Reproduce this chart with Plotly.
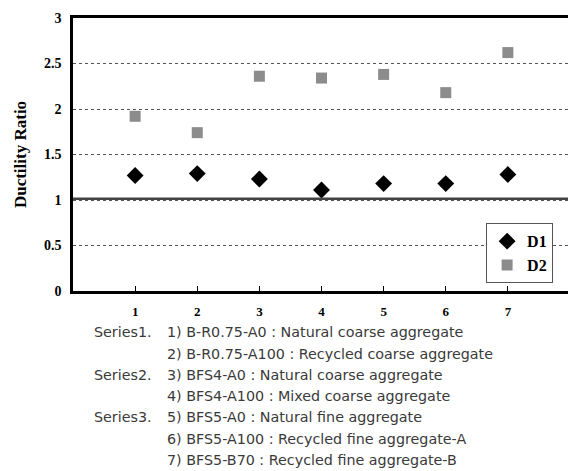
import plotly.graph_objects as go

specimens = [1, 2, 3, 4, 5, 6, 7]
d1 = [1.27, 1.29, 1.23, 1.11, 1.18, 1.18, 1.28]
d2 = [1.92, 1.74, 2.36, 2.34, 2.38, 2.18, 2.62]
y_ticks = [0, 0.5, 1, 1.5, 2, 2.5, 3]
y_labels = ["0", "0.5", "1", "1.5", "2", "2.5", "3"]
series_labels = ["Series1.", "", "Series2.", "", "Series3.", "", ""]
notes = [
    "1) B-R0.75-A0 : Natural coarse aggregate",
    "2) B-R0.75-A100 : Recycled coarse aggregate",
    "3) BFS4-A0 : Natural coarse aggregate",
    "4) BFS4-A100 : Mixed coarse aggregate",
    "5) BFS5-A0 : Natural fine aggregate",
    "6) BFS5-A100 : Recycled fine aggregate-A",
    "7) BFS5-B70 : Recycled fine aggregate-B",
]

OFF = 8  # page body margin
W, H = 576 - OFF, 471 - OFF
L, R, T, B = 73 - OFF, 3, 13 - OFF, 180
PW, PH = W - L - R, H - T - B

def px(x):
    return (x - OFF - L) / PW

def py(y):
    return (H - B - (y - OFF)) / PH

serif = "Liberation Serif"
note_font = dict(family="DejaVu Sans", size=14.3, color="#3a3a3a")
fig = go.Figure()
fig.add_trace(go.Scatter(x=specimens, y=d1, mode="markers", name="D1",
                         marker=dict(symbol="diamond", size=13, color="black")))
fig.add_trace(go.Scatter(x=specimens, y=d2, mode="markers", name="D2",
                         marker=dict(symbol="square", size=11, color="#8c8c8c")))

fig.add_shape(type="line", xref="paper", x0=0, x1=1, yref="y", y0=1.015, y1=1.015,
              line=dict(color="#444", width=2.5), layer="above")

for i, (s, n) in enumerate(zip(series_labels, notes)):
    yy = py(333 + i * 21.7)
    if s:
        fig.add_annotation(text=s, xref="paper", yref="paper", x=px(92), y=yy,
                           xanchor="left", yanchor="middle", showarrow=False,
                           font=note_font)
    fig.add_annotation(text=n, xref="paper", yref="paper", x=px(166), y=yy,
                       xanchor="left", yanchor="middle", showarrow=False,
                       font=note_font)

fig.update_layout(
    width=W, height=H,
    margin=dict(l=L, r=R, t=T, b=B),
    plot_bgcolor="white", paper_bgcolor="white",
    font=dict(family=serif, color="black"),
    xaxis=dict(range=[0, 8], tickvals=specimens, ticktext=[f"<b>{v}</b>" for v in specimens],
               ticks="inside", ticklen=5, tickcolor="black", showgrid=False,
               showline=True, linecolor="black", linewidth=2.5, mirror=True,
               ticklabelstandoff=7, tickfont=dict(family=serif, size=13), zeroline=False),
    yaxis=dict(range=[0, 3], tickvals=y_ticks, ticktext=[f"<b>{t}</b>" for t in y_labels],
               showgrid=True, gridcolor="#555", griddash="dot", gridwidth=1,
               showline=True, linecolor="black", linewidth=2.5, mirror=True,
               ticks="", tickfont=dict(family=serif, size=14), zeroline=False,
               ticklabelstandoff=6, ticklabeloverflow="allow",
               title=dict(text="<b>Ductility Ratio</b>", font=dict(family=serif, size=17), standoff=14)),
    legend=dict(x=px(556), y=py(222), xanchor="right", yanchor="top",
                bgcolor="white", bordercolor="#555", borderwidth=1,
                font=dict(family=serif, size=16), itemwidth=30, tracegroupgap=0),
    showlegend=True,
)
for tr in fig.data:
    tr.name = f"<b>{tr.name}</b>"

fig.write_html("out.html")
